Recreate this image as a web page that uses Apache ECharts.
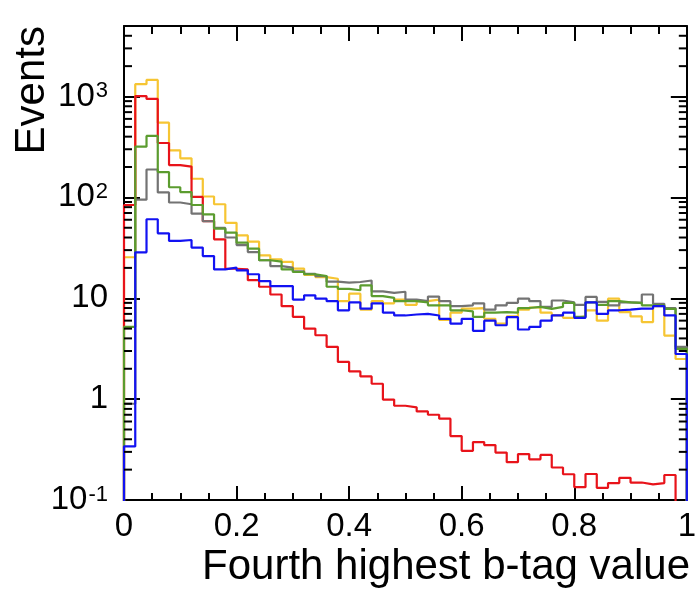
<!DOCTYPE html>
<html>
<head>
<meta charset="utf-8">
<script src="https://cdn.jsdelivr.net/npm/echarts@6/dist/echarts.min.js"></script>
<style>
html,body{margin:0;padding:0;background:#fff;}
#chart{width:699px;height:590px;}
</style>
</head>
<body>
<div id="chart"></div>
<script>
// Bin edges of the histogram (x axis, b-tag value)
const binEdges = [0,0.02,0.04,0.06,0.08,0.10,0.12,0.14,0.16,0.18,0.20,0.22,0.24,0.26,0.28,0.30,0.32,0.34,0.36,0.38,0.40,0.42,0.44,0.46,0.48,0.50,0.52,0.54,0.56,0.58,0.60,0.62,0.64,0.66,0.68,0.70,0.72,0.74,0.76,0.78,0.80,0.82,0.84,0.86,0.88,0.90,0.92,0.94,0.96,0.98,1.00];

// Series values per bin (Events)
const yellowVals = [25.5,1325,1460,550,292,244,153,102,85.5,56,42,36.5,26.6,24.3,22.9,19.7,17.0,16.2,15.6,9.35,11.1,7.7,9.35,8.9,9.7,8.6,9.35,9.7,6.1,7.2,7.9,8.0,6.25,5.6,6.6,7.7,8.1,7.2,6.75,6.4,6.6,7.6,6.0,9.9,7.3,6.6,5.8,8.35,4.27,2.5];
const redVals = [84,1010,946,346,209,202,101,58,38.4,19.6,19.3,15.1,13.0,10.9,8.35,6.55,5.0,4.3,3.3,2.34,1.88,1.68,1.42,0.99,0.86,0.83,0.755,0.70,0.64,0.43,0.307,0.375,0.35,0.295,0.237,0.285,0.253,0.28,0.21,0.18,0.134,0.181,0.132,0.147,0.166,0.149,0.143,0.147,0.177,0.05];
const grayVals = [0.9,95,189,112,89,85.5,69,58,49.8,40,33.7,28.7,23.8,20.8,20.1,18.5,17.5,16.6,14.6,14.3,14.5,15.0,11.7,11.3,11.6,9.7,9.35,10.4,9.35,8.35,8.5,8.9,7.7,8.5,9.0,9.9,9.35,8.2,9.5,9.1,8.6,10.3,9.2,8.5,9.1,9.0,10.9,8.8,8.0,3.3];
const greenVals = [5.2,318,407,178,126,113,84,68,49,44.8,35.6,31,23.8,23.1,19.3,18.2,17.3,16.6,13.0,12.4,12.0,13.4,10.5,10.1,9.35,9.35,9.1,8.5,8.5,7.6,7.4,6.55,7.2,7.3,7.2,8.0,8.2,7.85,8.2,9.0,6.55,9.1,8.6,9.35,9.1,9.0,8.5,8.5,7.85,3.15];
const blueVals = [0.34,28.5,60.7,44,37,37.8,31.8,26.2,19.3,20.1,18.9,17.3,14.8,13.2,13.2,9.7,10.7,9.9,9.35,7.6,9.1,7.9,8.9,7.2,6.75,6.9,7.0,6.75,6.25,5.6,6.25,4.75,6.0,5.4,6.5,4.9,5.2,6.0,6.75,7.2,6.4,9.1,7.0,7.6,7.7,7.9,7.9,8.35,6.75,2.8];

// Axis ticks
const xTickLabels = ['0','0.2','0.4','0.6','0.8','1'];
const yMinorTicks = [0.2,0.3,0.4,0.5,0.6,0.7,0.8,0.9,2,3,4,5,6,7,8,9,20,30,40,50,60,70,80,90,200,300,400,500,600,700,800,900,2000,3000,4000];

const FONT = '"Liberation Sans", Arial, Helvetica, sans-serif';
const FLOOR = 1e-4;

function histPoints(vals) {
  const pts = [[binEdges[0], FLOOR]];
  for (let i = 0; i < vals.length; i++) pts.push([binEdges[i], vals[i]]);
  pts.push([binEdges[binEdges.length - 1], vals[vals.length - 1]]);
  pts.push([binEdges[binEdges.length - 1], FLOOR]);
  return pts;
}

function histSeries(vals, color) {
  return {
    type: 'line', step: 'end', data: histPoints(vals),
    showSymbol: false, symbol: 'none', clip: true,
    lineStyle: { color: color, width: 2.2 },
    xAxisIndex: 0, yAxisIndex: 0, z: 3
  };
}

const chart = echarts.init(document.getElementById('chart'), null, { renderer: 'canvas' });

const yLabelFormatter = function (v) {
  const e = Math.round(Math.log10(v));
  if (Math.abs(Math.log10(v) - e) > 1e-6) return '';
  if (e === 0) return '1';
  if (e === 1) return '10';
  return '{b|10}{s|' + e + '}';
};

const axisLine = { show: true, onZero: false, lineStyle: { color: '#000', width: 2 } };

chart.setOption({
  animation: false,
  backgroundColor: '#fff',
  grid: { left: 124, right: 8, top: 26, bottom: 90, containLabel: false },
  xAxis: [
    {
      type: 'value', min: 0, max: 1, interval: 0.2, position: 'bottom',
      axisLine: axisLine,
      axisTick: { inside: true, length: 14, lineStyle: { color: '#000', width: 2 } },
      minorTick: { show: true, splitNumber: 4, length: 7, lineStyle: { color: '#000', width: 2 } },
      splitLine: { show: false }, minorSplitLine: { show: false },
      axisLabel: {
        margin: 10, color: '#000', fontFamily: FONT, fontSize: 33,
        formatter: function (v) { return xTickLabels[Math.round(v / 0.2)]; }
      }
    },
    {
      type: 'value', min: 0, max: 1, interval: 0.2, position: 'top',
      axisLine: axisLine,
      axisTick: { inside: true, length: 15, lineStyle: { color: '#000', width: 2 } },
      minorTick: { show: true, splitNumber: 4, length: 8, lineStyle: { color: '#000', width: 2 } },
      splitLine: { show: false }, minorSplitLine: { show: false },
      axisLabel: { show: false }
    }
  ],
  yAxis: [
    {
      type: 'log', logBase: 10, min: 0.1, max: 5000, position: 'left',
      axisLine: axisLine,
      axisTick: { inside: true, length: 16, lineStyle: { color: '#000', width: 2 } },
      splitLine: { show: false },
      axisLabel: {
        margin: 16, color: '#000', fontFamily: FONT, fontSize: 33,
        formatter: yLabelFormatter,
        rich: {
          b: { fontFamily: FONT, fontSize: 33, lineHeight: 33, color: '#000' },
          s: { fontFamily: FONT, fontSize: 22, lineHeight: 22, verticalAlign: 'top', color: '#000', padding: [0, 0, 0, 1] }
        }
      }
    },
    {
      type: 'log', logBase: 10, min: 0.1, max: 5000, position: 'right',
      axisLine: axisLine,
      axisTick: { inside: true, length: 16, lineStyle: { color: '#000', width: 2 } },
      splitLine: { show: false },
      axisLabel: { show: false }
    }
  ],
  series: [
    histSeries(yellowVals, '#f6c533'),
    histSeries(redVals, '#e8131a'),
    histSeries(grayVals, '#737373'),
    histSeries(greenVals, '#5b9c2f'),
    histSeries(blueVals, '#1212f2'),
    {
      type: 'custom', xAxisIndex: 0, yAxisIndex: 0, z: 5, silent: true,
      data: yMinorTicks.map(function (v) { return [0, v]; }),
      renderItem: function (params, api) {
        const v = api.value(1);
        const pl = api.coord([0, v]);
        const pr = api.coord([1, v]);
        return {
          type: 'group',
          children: [
            { type: 'line', shape: { x1: pl[0], y1: pl[1], x2: pl[0] + 8, y2: pl[1] }, style: { stroke: '#000', lineWidth: 2 } },
            { type: 'line', shape: { x1: pr[0] - 8, y1: pr[1], x2: pr[0], y2: pr[1] }, style: { stroke: '#000', lineWidth: 2 } }
          ]
        };
      }
    }
  ],
  graphic: [
    {
      type: 'text', right: 9, top: 546,
      style: { text: 'Fourth highest b-tag value', font: '42px ' + FONT, fill: '#000' }
    },
    {
      type: 'text', x: 32, y: 26, rotation: Math.PI / 2,
      style: { text: 'Events', font: '42px ' + FONT, fill: '#000', textAlign: 'right', textVerticalAlign: 'middle' }
    }
  ]
});
</script>
</body>
</html>
